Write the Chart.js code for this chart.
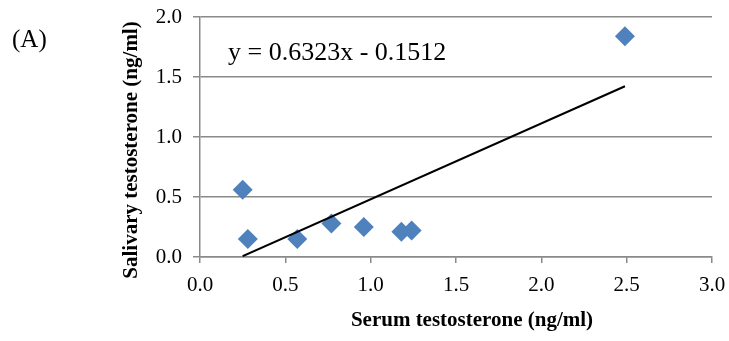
<!DOCTYPE html>
<html>
<head>
<meta charset="utf-8">
<script src="https://cdn.jsdelivr.net/npm/chart.js@4.4.1/dist/chart.umd.min.js"></script>
<style>
	html, body { margin: 0; padding: 0; background: #fff; }
	#wrap { width: 729px; height: 341px; }
</style>
</head>
<body>
<div id="wrap"><canvas id="chart"></canvas></div>
<script>
// Serum vs salivary testosterone (ng/ml)
const serum = [0.25, 0.28, 0.57, 0.77, 0.96, 1.18, 1.24, 2.49];
const salivary = [0.56, 0.15, 0.15, 0.28, 0.25, 0.21, 0.22, 1.84];
const slope = 0.6323;
const intercept = -0.1512;
const equation = 'y = 0.6323x - 0.1512';
const panelLabel = '(A)';
const xTitle = 'Serum testosterone (ng/ml)';
const yTitle = 'Salivary testosterone (ng/ml)';

const serif = '"Liberation Serif", "Times New Roman", serif';
const gridColor = '#8a8a8a';

// linear trendline spans the measured serum range
const xMin = Math.min(...serum), xMax = Math.max(...serum);
const trend = [xMin, xMax].map((x) => ({x: x, y: slope * x + intercept}));

const extraText = {
	id: 'extraText',
	afterDraw(chart) {
		const ctx = chart.ctx;
		ctx.save();
		ctx.fillStyle = '#000';
		ctx.textBaseline = 'middle';
		ctx.font = '25px ' + serif;
		ctx.textAlign = 'left';
		ctx.fillText(panelLabel, 12, 40);
		ctx.font = '26px ' + serif;
		ctx.textBaseline = 'alphabetic';
		ctx.fillText(equation, 228, 60);
		ctx.textBaseline = 'middle';
		ctx.font = 'bold 21px ' + serif;
		ctx.textAlign = 'center';
		ctx.fillText(xTitle, 472, 321);
		ctx.translate(132, 150);
		ctx.rotate(-Math.PI / 2);
		ctx.fillText(yTitle, 0, 0);
		ctx.restore();
	}
};

new Chart(document.getElementById('chart'), {
	type: 'scatter',
	data: {
		datasets: [{
			label: 'Samples',
			data: serum.map((x, i) => ({x: x, y: salivary[i]})),
			pointStyle: 'rectRot',
			pointRadius: 10,
			pointHoverRadius: 10,
			backgroundColor: '#4f81bd',
			borderColor: '#4f81bd',
			borderWidth: 0,
			order: 2
		}, {
			label: 'Trend',
			data: trend,
			showLine: true,
			pointRadius: 0,
			borderColor: '#000',
			borderWidth: 2,
			order: 1
		}]
	},
	options: {
		responsive: true,
		maintainAspectRatio: false,
		animation: false,
		layout: {padding: {left: 0, top: 17, right: 17, bottom: 0}},
		plugins: {legend: {display: false}, tooltip: {enabled: false}},
		scales: {
			x: {
				type: 'linear',
				min: 0, max: 3,
				afterFit: (s) => { s.height = 84; s.paddingLeft = 0; s.paddingRight = 0; },
				ticks: {
					stepSize: 0.5,
					padding: 10,
					color: '#000',
					font: {family: serif, size: 21},
					callback: (v) => v.toFixed(1)
				},
				grid: {drawOnChartArea: false, tickLength: 6, color: gridColor, lineWidth: 1.5},
				border: {color: gridColor, width: 1.5}
			},
			y: {
				type: 'linear',
				min: 0, max: 2,
				afterFit: (s) => { s.width = 200; s.paddingTop = 0; s.paddingBottom = 0; },
				ticks: {
					stepSize: 0.5,
					padding: 11,
					color: '#000',
					font: {family: serif, size: 21},
					callback: (v) => v.toFixed(1)
				},
				grid: {tickLength: 7, color: gridColor, lineWidth: 1.5},
				border: {color: gridColor, width: 1.5}
			}
		}
	},
	plugins: [extraText]
});
</script>
</body>
</html>
